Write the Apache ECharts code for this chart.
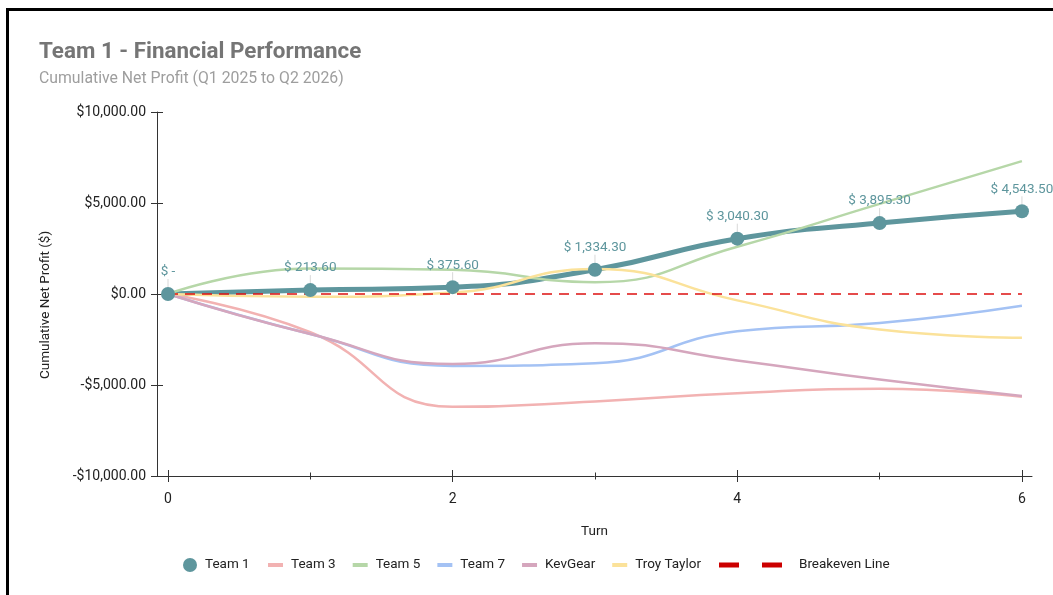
<!DOCTYPE html>
<html>
<head>
<meta charset="utf-8">
<script src="https://cdn.jsdelivr.net/npm/echarts@6/dist/echarts.min.js"></script>
<style>
  html, body { margin: 0; padding: 0; background: #fff; width: 1053px; height: 595px; overflow: hidden; }
  #frame { position: absolute; left: 6px; top: 8px; width: 2000px; height: 2000px; border-left: 3px solid #000; border-top: 3px solid #000; box-sizing: border-box; }
  #chart { position: absolute; left: 0; top: 0; width: 1053px; height: 595px; }
</style>
</head>
<body>
<div id="frame"></div>
<div id="chart"></div>
<script>
// ---- data ----
const turns = [0, 1, 2, 3, 4, 5, 6];
const team1 = [0, 213.6, 375.6, 1334.3, 3040.3, 3895.3, 4543.5];
const team3 = [0, -2100, -6200, -5900, -5450, -5200, -5650];
const team5 = [0, 1400, 1330, 650, 2600, 4950, 7300];
const team7 = [0, -2200, -3950, -3800, -2050, -1600, -650];
const kevGear = [0, -2200, -3850, -2700, -3650, -4700, -5600];
const troyTaylor = [0, -150, 80, 1380, -350, -1950, -2400];
const breakeven = [0, 0, 0, 0, 0, 0, 0];
const xMajorTicks = [0, 2, 4, 6];
const xMinorTicks = [1, 3, 5];
const yMin = -10000, yMax = 10000, yStep = 5000;

// ---- helpers ----
const pairs = arr => turns.map((t, i) => [t, arr[i]]);
const money = v => (v < 0 ? '-' : '') + '$' + Math.abs(v).toLocaleString('en-US', {minimumFractionDigits: 2, maximumFractionDigits: 2});
const pointLabel = v => v === 0 ? '$ -' : '$ ' + v.toLocaleString('en-US', {minimumFractionDigits: 2, maximumFractionDigits: 2});

const FONT = 'Roboto';
const TEAL = '#5e969d';
const SMOOTH = 0.5;
const txt = {fontFamily: FONT, fontSize: 13.5, color: '#222'};

const xBase = {type: 'value', min: -0.0773, max: 6.0707, position: 'bottom', splitLine: {show: false}};
const yBase = {type: 'value', min: yMin, max: yMax, interval: yStep, position: 'left', splitLine: {show: false}};

const chart = echarts.init(document.getElementById('chart'), null, {renderer: 'canvas'});
const option = {
  backgroundColor: 'transparent',
  animation: false,
  title: {
    text: 'Team 1 - Financial Performance',
    subtext: 'Cumulative Net Profit (Q1 2025 to Q2 2026)',
    left: 39, top: 41, padding: 0, itemGap: 8,
    textStyle: {fontFamily: FONT, fontSize: 22.4, fontWeight: 'bold', color: '#757575'},
    subtextStyle: {fontFamily: FONT, fontSize: 15.8, color: '#9e9e9e'}
  },
  grid: {left: 157, right: 21, top: 112, bottom: 119, containLabel: false},
  xAxis: [
    Object.assign({}, xBase, {
      name: 'Turn', nameLocation: 'middle', nameGap: 49, nameTextStyle: txt,
      axisLine: {show: true, onZero: false, lineStyle: {color: '#333', width: 1}},
      axisTick: {show: true, length: 6, customValues: xMajorTicks, lineStyle: {color: '#333'}},
      axisLabel: {show: true, customValues: xMajorTicks, margin: 16, fontFamily: FONT, fontSize: 14, color: '#222'}
    }),
    Object.assign({}, xBase, {
      axisLine: {show: false, onZero: false},
      axisTick: {show: true, inside: true, length: 6, customValues: xMajorTicks, lineStyle: {color: '#333'}},
      axisLabel: {show: false}
    }),
    Object.assign({}, xBase, {
      axisLine: {show: false, onZero: false},
      axisTick: {show: true, length: 3.5, customValues: xMinorTicks, lineStyle: {color: '#333'}},
      axisLabel: {show: false}
    }),
    Object.assign({}, xBase, {
      axisLine: {show: false, onZero: false},
      axisTick: {show: true, inside: true, length: 3.5, customValues: xMinorTicks, lineStyle: {color: '#333'}},
      axisLabel: {show: false}
    })
  ],
  yAxis: [
    Object.assign({}, yBase, {
      name: 'Cumulative Net Profit ($)', nameLocation: 'middle', nameGap: 104,
      nameTextStyle: Object.assign({}, txt, {padding: [0, 22, 0, 0]}),
      axisLine: {show: true, onZero: false, lineStyle: {color: '#333', width: 1}},
      axisTick: {show: true, length: 6, lineStyle: {color: '#333'}},
      axisLabel: {show: true, margin: 11, formatter: money, fontFamily: FONT, fontSize: 14, color: '#222'}
    }),
    Object.assign({}, yBase, {
      axisLine: {show: false, onZero: false},
      axisTick: {show: true, inside: true, length: 6, lineStyle: {color: '#333'}},
      axisLabel: {show: false}
    })
  ],
  legend: [
    {
      data: [{name: 'Team 1', icon: 'circle'}],
      left: 183, top: 558, itemWidth: 14, itemHeight: 14, padding: 0,
      textStyle: Object.assign({}, txt, {padding: [0, 0, 0, 3]})
    },
    {
      data: ['Team 3', 'Team 5', 'Team 7', 'KevGear', 'Troy Taylor'],
      icon: 'rect',
      left: 268, top: 558, itemWidth: 15, itemHeight: 4, itemGap: 17, padding: 0,
      textStyle: Object.assign({}, txt, {padding: [0, 0, 0, 3]})
    },
    {
      data: [{name: 'Breakeven Line', icon: 'path://M0,0h20v5h-20zM43,0h20v5h-20z'}],
      left: 719, top: 558, itemWidth: 63, itemHeight: 5, padding: 0,
      textStyle: Object.assign({}, txt, {padding: [0, 0, 0, 12]})
    }
  ],
  series: [
    {
      name: 'Team 1', type: 'line', data: pairs(team1), smooth: SMOOTH, symbol: 'none',
      lineStyle: {width: 5, color: TEAL}, itemStyle: {color: TEAL}, z: 2
    },
    {
      name: 'Team 3', type: 'line', data: pairs(team3), smooth: SMOOTH, symbol: 'none',
      lineStyle: {width: 2.5, color: '#f2b2b2'}, itemStyle: {color: '#f2b2b2'}, z: 3
    },
    {
      name: 'Team 5', type: 'line', data: pairs(team5), smooth: SMOOTH, symbol: 'none',
      lineStyle: {width: 2.5, color: '#b6d7a8'}, itemStyle: {color: '#b6d7a8'}, z: 3
    },
    {
      name: 'Team 7', type: 'line', data: pairs(team7), smooth: SMOOTH, symbol: 'none',
      lineStyle: {width: 2.5, color: '#a4c2f4'}, itemStyle: {color: '#a4c2f4'}, z: 3
    },
    {
      name: 'KevGear', type: 'line', data: pairs(kevGear), smooth: SMOOTH, symbol: 'none',
      lineStyle: {width: 2.5, color: '#d5a6bd'}, itemStyle: {color: '#d5a6bd'}, z: 3
    },
    {
      name: 'Troy Taylor', type: 'line', data: pairs(troyTaylor), smooth: SMOOTH, symbol: 'none',
      lineStyle: {width: 2.5, color: '#fbe29a'}, itemStyle: {color: '#fbe29a'}, z: 3
    },
    {
      name: 'Breakeven Line', type: 'line', data: pairs(breakeven), symbol: 'none',
      lineStyle: {width: 1.5, color: '#dd1111', type: [10, 7]}, itemStyle: {color: '#cc0000'}, z: 4
    },
    {
      name: 'Team 1', type: 'line', data: pairs(team1), symbol: 'circle', symbolSize: 14, showSymbol: true,
      lineStyle: {opacity: 0}, itemStyle: {color: TEAL}, z: 5,
      label: {show: true, position: 'top', distance: 2, formatter: p => pointLabel(p.value[1]),
              fontFamily: FONT, fontSize: 13.5, color: TEAL},
      labelLayout: {dy: -6},
      labelLine: {show: true, lineStyle: {color: '#d8d8d8', width: 1}}
    }
  ]
};
chart.setOption(option);
</script>
</body>
</html>
